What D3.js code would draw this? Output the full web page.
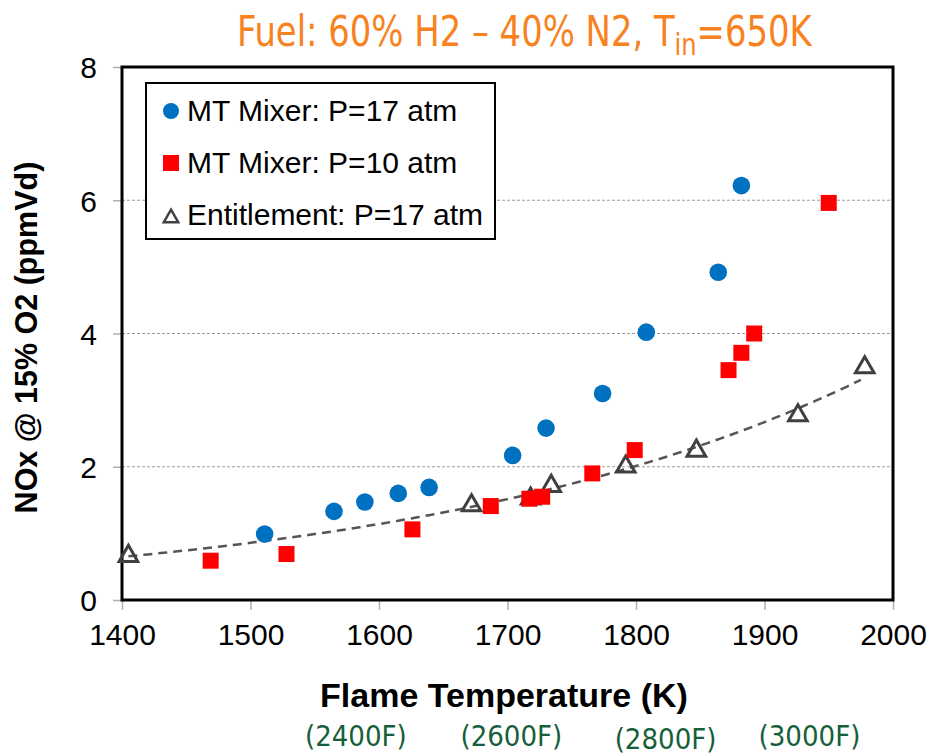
<!DOCTYPE html>
<html>
<head>
<meta charset="utf-8">
<script src="https://cdn.jsdelivr.net/npm/d3@7"></script>
<style>
  body { margin: 0; background: #fff; }
  svg { display: block; font-family: "Liberation Sans", Arial, sans-serif; }
</style>
</head>
<body>
<svg id="chart" width="931" height="755"></svg>
<script>
// MT Mixer, P=17 atm (blue circles)
const p17Temp = [1511, 1565, 1589, 1615, 1639, 1704, 1730, 1774, 1808, 1864, 1882];
const p17NOx  = [0.99, 1.33, 1.47, 1.60, 1.69, 2.17, 2.58, 3.10, 4.02, 4.92, 6.22];

// MT Mixer, P=10 atm (red squares)
const p10Temp = [1469, 1528, 1626, 1687, 1717, 1727, 1766, 1799, 1872, 1882, 1892, 1950];
const p10NOx  = [0.59, 0.69, 1.06, 1.41, 1.52, 1.55, 1.90, 2.25, 3.45, 3.71, 4.00, 5.96];

// Entitlement, P=17 atm (open triangles)
const entTemp = [1405, 1672, 1718, 1734, 1792, 1847, 1926, 1978];
const entNOx  = [0.66, 1.42, 1.52, 1.71, 2.00, 2.24, 2.77, 3.49];

const xTicks = [1400, 1500, 1600, 1700, 1800, 1900, 2000];
const yTicks = [0, 2, 4, 6, 8];
const fahrLabels = ["(2400F)", "(2600F)", "(2800F)", "(3000F)"];
// where the fahrenheit notes sit along the K axis
const fahrKelvin = [1582, 1703, 1823, 1935];

const svg = d3.select("#chart");
const margin = { left: 122, right: 38, top: 67, bottom: 155 };
const width = 931, height = 755;

const x = d3.scaleLinear().domain([1400, 2000]).range([margin.left, width - margin.right]);
const y = d3.scaleLinear().domain([0, 8]).range([height - margin.bottom, margin.top]);

// grid lines
svg.append("g")
  .selectAll("line")
  .data(yTicks.filter(d => d > 0 && d < 8))
  .join("line")
  .attr("x1", x(1400)).attr("x2", x(2000))
  .attr("y1", d => y(d)).attr("y2", d => y(d))
  .attr("stroke", "#9a9a9a")
  .attr("stroke-width", 1)
  .attr("stroke-dasharray", "3,2");

// axes
const xAxis = svg.append("g")
  .attr("transform", `translate(0,${y(0)})`)
  .call(d3.axisBottom(x).tickValues(xTicks).tickSize(10).tickPadding(14).tickFormat(d3.format("d")));
xAxis.select(".domain").remove();
xAxis.selectAll("line").attr("stroke", "#b0b0b0").attr("stroke-width", 1.5);
xAxis.selectAll("text").attr("font-size", 30).attr("fill", "#000");

const yAxis = svg.append("g")
  .attr("transform", `translate(${x(1400)},0)`)
  .call(d3.axisLeft(y).tickValues(yTicks).tickSize(9).tickPadding(16));
yAxis.select(".domain").remove();
yAxis.selectAll("line").attr("stroke", "#b0b0b0").attr("stroke-width", 1.5);
yAxis.selectAll("text").attr("font-size", 30).attr("fill", "#000").attr("dy", "0.36em");

// plot frame
svg.append("rect")
  .attr("x", x(1400)).attr("y", y(8))
  .attr("width", x(2000) - x(1400)).attr("height", y(0) - y(8))
  .attr("fill", "none").attr("stroke", "#000").attr("stroke-width", 3);

// exponential trendline through entitlement points (least squares on log)
const n = entTemp.length;
const lx = d3.mean(entTemp), ly = d3.mean(entNOx.map(Math.log));
const b = d3.sum(entTemp.map((t, i) => (t - lx) * (Math.log(entNOx[i]) - ly))) /
          d3.sum(entTemp.map(t => (t - lx) ** 2));
const a = Math.exp(ly - b * lx);
const trend = d3.range(entTemp[0], entTemp[n - 1] + 1, 5).map(t => [t, a * Math.exp(b * t)]);
svg.append("path")
  .datum(trend)
  .attr("d", d3.line().x(d => x(d[0])).y(d => y(d[1])))
  .attr("fill", "none")
  .attr("stroke", "#555")
  .attr("stroke-width", 2.5)
  .attr("stroke-dasharray", "9,6");

const tri = d3.symbol().type(d3.symbolTriangle).size(150);

// entitlement triangles
svg.append("g")
  .selectAll("path")
  .data(entTemp.map((t, i) => [t, entNOx[i]]))
  .join("path")
  .attr("d", tri)
  .attr("transform", d => `translate(${x(d[0])},${y(d[1])})`)
  .attr("fill", "none")
  .attr("stroke", "#404040")
  .attr("stroke-width", 3)
  .attr("stroke-linejoin", "miter");

// P=10 squares
svg.append("g")
  .selectAll("rect")
  .data(p10Temp.map((t, i) => [t, p10NOx[i]]))
  .join("rect")
  .attr("x", d => x(d[0]) - 8).attr("y", d => y(d[1]) - 8)
  .attr("width", 16).attr("height", 16)
  .attr("fill", "#ff0000");

// P=17 circles
svg.append("g")
  .selectAll("circle")
  .data(p17Temp.map((t, i) => [t, p17NOx[i]]))
  .join("circle")
  .attr("cx", d => x(d[0])).attr("cy", d => y(d[1]))
  .attr("r", 8.8)
  .attr("fill", "#0070c0");

// legend
const legend = svg.append("g");
legend.append("rect")
  .attr("x", 146).attr("y", 83).attr("width", 349).attr("height", 156)
  .attr("fill", "#fff").attr("stroke", "#000").attr("stroke-width", 2);
const legItems = ["MT Mixer: P=17 atm", "MT Mixer: P=10 atm", "Entitlement: P=17 atm"];
legItems.forEach((label, i) => {
  const cy = 111 + i * 52;
  if (i === 0) legend.append("circle").attr("cx", 171).attr("cy", cy).attr("r", 8).attr("fill", "#0070c0");
  if (i === 1) legend.append("rect").attr("x", 163).attr("y", cy - 8).attr("width", 16).attr("height", 16).attr("fill", "#ff0000");
  if (i === 2) legend.append("path").attr("d", d3.symbol().type(d3.symbolTriangle).size(90))
    .attr("transform", `translate(171,${cy + 3})`)
    .attr("fill", "none").attr("stroke", "#404040").attr("stroke-width", 2.5);
  legend.append("text")
    .attr("x", 187).attr("y", cy + 10)
    .attr("font-size", 30).attr("fill", "#000")
    .text(label);
});

// axis titles
svg.append("text")
  .attr("x", 504).attr("y", 707)
  .attr("text-anchor", "middle")
  .attr("font-size", 34).attr("font-weight", "bold")
  .text("Flame Temperature (K)");

svg.append("text")
  .attr("transform", `translate(37,${(y(0) + y(8)) / 2 + 4}) rotate(-90)`)
  .attr("text-anchor", "middle")
  .attr("font-size", 30.5).attr("font-weight", "bold")
  .text("NOx @ 15% O2 (ppmVd)");

// fahrenheit labels
const narrow = '"Liberation Sans Narrow", "DejaVu Sans Condensed", sans-serif';
svg.append("g")
  .selectAll("text")
  .data(fahrLabels)
  .join("text")
  .attr("x", (d, i) => x(fahrKelvin[i]))
  .attr("y", (d, i) => i === 2 ? 749 : 746)
  .attr("text-anchor", "middle")
  .attr("font-family", narrow)
  .attr("font-size", 29)
  .attr("fill", "#15603a")
  .text(d => d);

// title
const title = svg.append("text")
  .attr("x", 0).attr("y", 46)
  .attr("font-family", narrow)
  .attr("font-size", 42)
  .attr("fill", "#f7821e");
title.append("tspan").text("Fuel: 60% H2 \u2013 40% N2, T");
title.append("tspan").attr("font-size", 30).attr("dy", 9).text("in");
title.append("tspan").attr("dy", -9).text("=650K");
const tw = title.node().getComputedTextLength();
title.attr("transform", `translate(237,0) scale(${575 / tw},1)`);
</script>
</body>
</html>
